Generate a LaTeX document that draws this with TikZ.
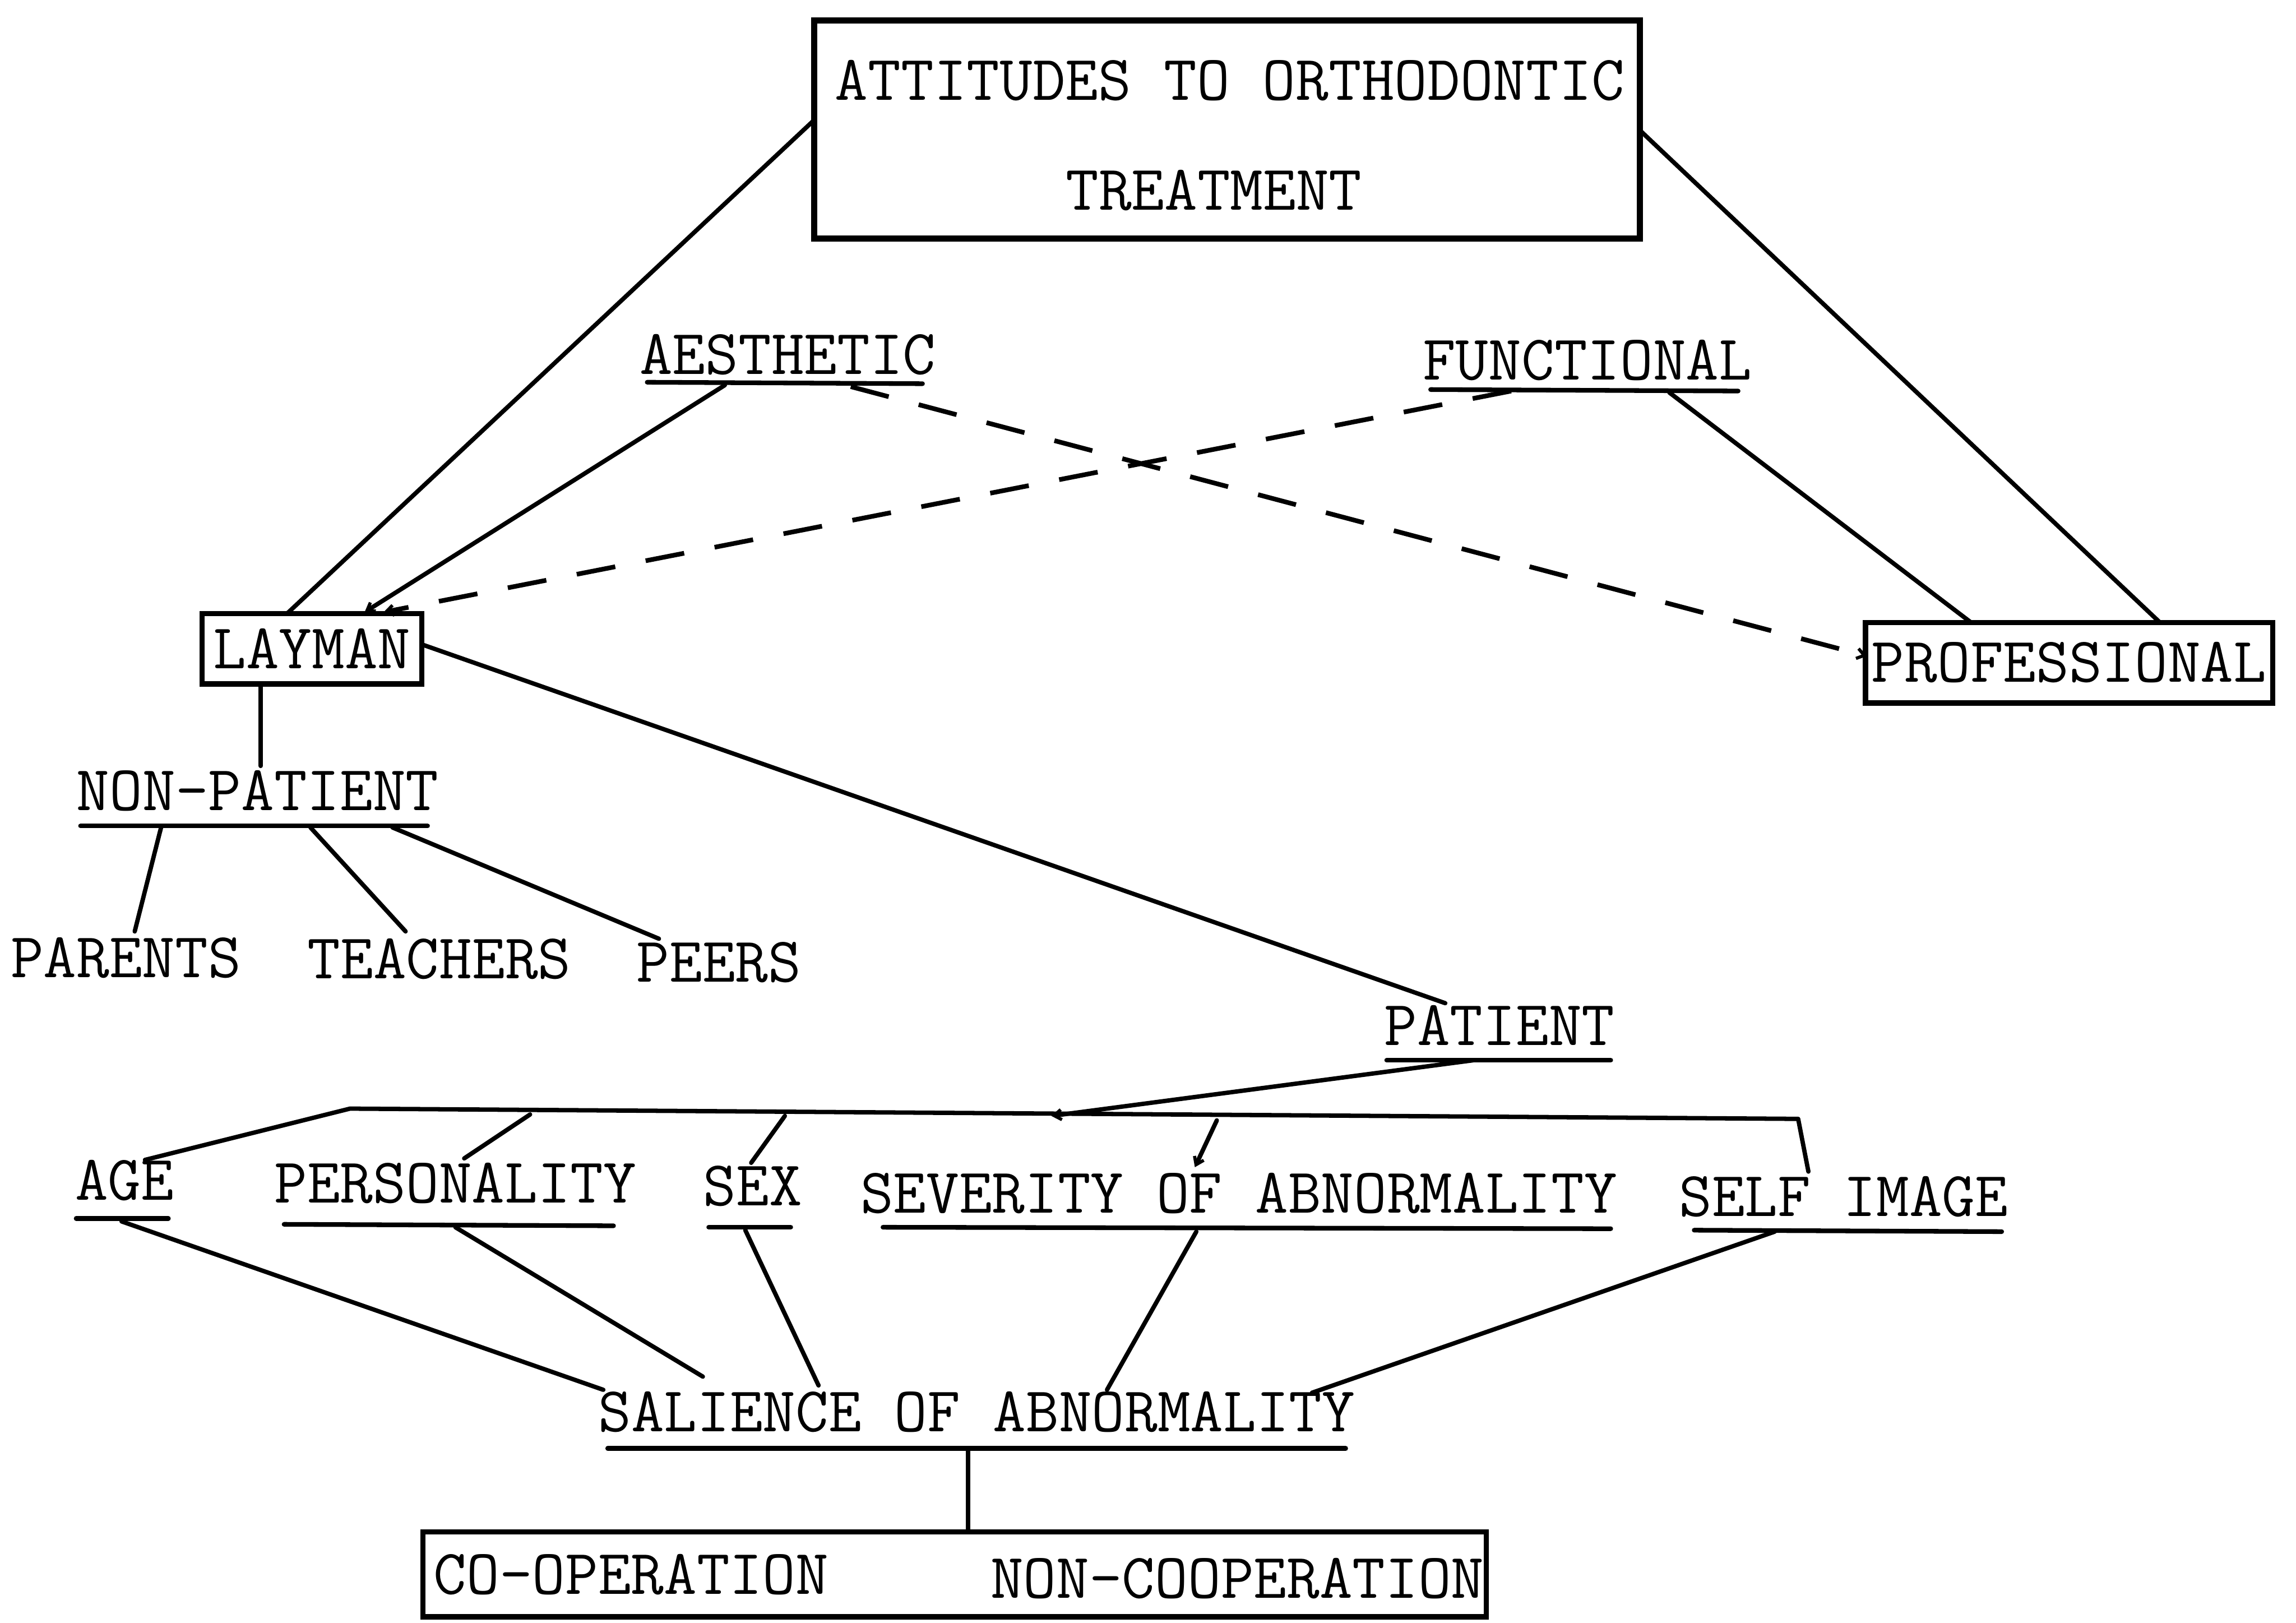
\documentclass[tikz,border=0pt]{standalone}
\usepackage{fontspec}
\usetikzlibrary{calc,arrows.meta}
\begin{document}
\begin{tikzpicture}[x=0.035453cm,y=-0.035453cm,
  lbl/.style={font=\ttfamily\fontsize{44}{48}\selectfont, inner sep=0pt, anchor=center},
  boxed/.style={lbl, draw, line width=3.6pt},
  conn/.style={line width=3pt, line cap=round, line join=round},
  dconn/.style={line width=3.2pt, dash pattern=on 0.95cm off 0.75cm},
  uline/.style={line width=3.2pt, line cap=round},
  tip/.style={-{Straight Barb[length=5pt,width=7pt,line width=2.2pt]}}
]
\useasboundingbox[fill=white] (0,0) rectangle (1568,1108);

% ---- boxes and labels ----
\node[boxed, line width=4.2pt, minimum width=19.995cm, minimum height=5.283cm] (title) at (838,88.5) {};
\node[lbl] (t1) at (840,55) {ATTITUDES TO ORTHODONTIC};
\node[lbl] (t2) at (829,130) {TREATMENT};

\node[boxed, minimum width=5.318cm, minimum height=1.702cm] (lay) at (213,443) {LAYMAN};
\node[boxed, minimum width=9.856cm, minimum height=1.95cm] (prof) at (1413,452.5) {PROFESSIONAL};

\node[lbl] (aes) at (538,242) {AESTHETIC};
\node[lbl] (fun) at (1084,246) {FUNCTIONAL};
\node[lbl] (np) at (176,540) {NON-PATIENT};
\node[lbl] (par) at (86,654) {PARENTS};
\node[lbl] (tea) at (300,655) {TEACHERS};
\node[lbl] (peer) at (491,657) {PEERS};
\node[lbl] (pat) at (1024,700) {PATIENT};
\node[lbl] (age) at (85,806) {AGE};
\node[lbl] (pers) at (311,808) {PERSONALITY};
\node[lbl] (sex) at (514,810) {SEX};
\node[lbl] (sev) at (846,815) {SEVERITY OF ABNORMALITY};
\node[lbl] (self) at (1259,817) {SELF IMAGE};
\node[lbl] (sal) at (667,964) {SALIENCE OF ABNORMALITY};
\node[boxed, minimum width=25.74cm, minimum height=2.056cm] (bot) at (652,1075) {};
\node[lbl] (coop) at (431,1075) {CO-OPERATION};
\node[lbl] (ncoop) at (845,1078) {NON-COOPERATION};

% ---- underlines ----
\draw[uline] (442,261) -- (630,262);
\draw[uline] (977,266) -- (1187,267);
\draw[uline] (55,564) -- (292,564);
\draw[uline] (947,724) -- (1100,724);
\draw[uline] (52,832) -- (115,832);
\draw[uline] (194,836) -- (419,837);
\draw[uline] (484,838) -- (540,838);
\draw[uline] (603,838) -- (1100,839);
\draw[uline] (1157,840) -- (1367,841);
\draw[uline] (415,989) -- (919,989);

% ---- connection points ----
\coordinate (titleL) at (556,82);
\coordinate (titleR) at (1121,90);
\coordinate (layT1) at (196,419);
\coordinate (layT2) at (249,418);
\coordinate (layT3) at (262,418);
\coordinate (layR) at (288,440);
\coordinate (layB) at (178,467);
\coordinate (profT1) at (1346,425);
\coordinate (profT2) at (1475,425);
\coordinate (profL) at (1275,448);
\coordinate (aesU1) at (495,263);
\coordinate (aesU2) at (581,264);
\coordinate (funU1) at (1032,267);
\coordinate (funU2) at (1140,268);
\coordinate (npT) at (178,523);
\coordinate (npU1) at (110,565);
\coordinate (npU2) at (212,565);
\coordinate (npU3) at (268,565);
\coordinate (parT) at (92,636);
\coordinate (teaT) at (277,636);
\coordinate (peerT) at (450,641);
\coordinate (patT) at (987,685);
\coordinate (patU) at (1006,724);
\coordinate (barL) at (239,757);
\coordinate (barR) at (1228,764);
\coordinate (barP) at (718,762);
\coordinate (barPe) at (362,761);
\coordinate (barSx) at (536,762);
\coordinate (barSv) at (831,765);
\coordinate (ageT) at (99,792);
\coordinate (persT) at (317,791);
\coordinate (sexT) at (513,794);
\coordinate (sevT) at (816,797);
\coordinate (selfT) at (1235,800);
\coordinate (ageU) at (83,834);
\coordinate (persU) at (311,838);
\coordinate (sexU) at (509,840);
\coordinate (sevU) at (817,841);
\coordinate (selfU) at (1212,841);
\coordinate (salT1) at (412,949);
\coordinate (salT2) at (480,940);
\coordinate (salT3) at (559,946);
\coordinate (salT4) at (756,949);
\coordinate (salT5) at (896,951);
\coordinate (salU) at (661,989);
\coordinate (botT) at (661,1046);

% ---- connectors ----
\draw[conn] (titleL) -- (layT1);
\draw[conn] (titleR) -- (profT2);
\draw[conn, tip] (aesU1) -- (layT2);
\draw[dconn, tip] (aesU2) -- (profL);
\draw[conn] (funU2) -- (profT1);
\draw[dconn, tip] (funU1) -- (layT3);
\draw[conn] (layB) -- (npT);
\draw[conn] (npU1) -- (parT);
\draw[conn] (npU2) -- (teaT);
\draw[conn] (npU3) -- (peerT);
\draw[conn] (layR) -- (patT);
\draw[conn, tip] (patU) -- (barP);
\draw[conn] (ageT) -- (barL) -- (barR) -- (selfT);
\draw[conn] (barPe) -- (persT);
\draw[conn] (barSx) -- (sexT);
\draw[conn, tip] (barSv) -- (sevT);
\draw[conn] (ageU) -- (salT1);
\draw[conn] (persU) -- (salT2);
\draw[conn] (sexU) -- (salT3);
\draw[conn] (sevU) -- (salT4);
\draw[conn] (selfU) -- (salT5);
\draw[conn] (salU) -- (botT);
\end{tikzpicture}
\end{document}
